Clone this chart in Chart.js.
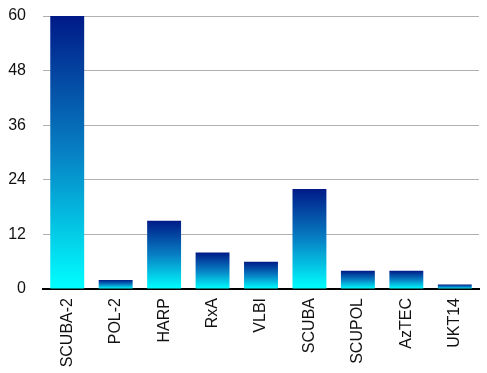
<!DOCTYPE html>
<html>
<head>
<meta charset="utf-8">
<script src="https://cdn.jsdelivr.net/npm/chart.js@4"></script>
<style>
  html, body { margin: 0; padding: 0; background: #fff; }
  #wrap { width: 487px; height: 373px; }
</style>
</head>
<body>
<div id="wrap"><canvas id="chart"></canvas></div>
<script>
const instruments = ['SCUBA-2', 'POL-2', 'HARP', 'RxA', 'VLBI', 'SCUBA', 'SCUPOL', 'AzTEC', 'UKT14'];
const counts = [60, 2, 15, 8, 6, 22, 4, 4, 1];
const yTicks = [0, 12, 24, 36, 48, 60];

// each bar gets its own gradient: cyan at the base, dark blue at its top
function barGradient(ctx) {
  const chart = ctx.chart;
  const y = chart.scales.y;
  if (!y || ctx.parsed === undefined) return '#0050b0';
  const top = y.getPixelForValue(ctx.parsed.y);
  const base = y.getPixelForValue(0);
  if (!isFinite(top) || !isFinite(base) || top === base) return '#0050b0';
  const g = chart.ctx.createLinearGradient(0, top, 0, base);
  g.addColorStop(0, '#001a87');
  g.addColorStop(0.5, '#0780c4');
  g.addColorStop(1, '#00ffff');
  return g;
}

new Chart(document.getElementById('chart'), {
  type: 'bar',
  data: {
    labels: instruments,
    datasets: [{
      data: counts,
      backgroundColor: barGradient,
      borderWidth: 0,
      categoryPercentage: 0.7,
      barPercentage: 1.0
    }]
  },
  options: {
    responsive: true,
    maintainAspectRatio: false,
    animation: false,
    layout: { padding: { top: 16, right: 8, left: 0, bottom: 0 } },
    plugins: {
      legend: { display: false },
      tooltip: { enabled: false }
    },
    scales: {
      x: {
        afterFit: axis => { axis.height = 84; axis.paddingLeft = 0; axis.paddingRight = 0; },
        grid: { display: false, drawTicks: false },
        border: { display: true, color: '#000', width: 2 },
        ticks: {
          color: '#111',
          font: { family: 'Liberation Sans', size: 16 },
          minRotation: 90,
          maxRotation: 90,
          padding: 9
        }
      },
      y: {
        min: 0,
        max: 60,
        afterFit: axis => { axis.width = 43; axis.paddingTop = 0; axis.paddingBottom = 0; },
        afterBuildTicks: axis => { axis.ticks = yTicks.map(v => ({ value: v })); },
        grid: { color: '#b0b0b0', lineWidth: 1, drawTicks: false },
        border: { display: false },
        ticks: {
          color: '#111',
          font: { family: 'Liberation Sans', size: 16 },
          padding: 17
        }
      }
    }
  }
});
</script>
</body>
</html>
